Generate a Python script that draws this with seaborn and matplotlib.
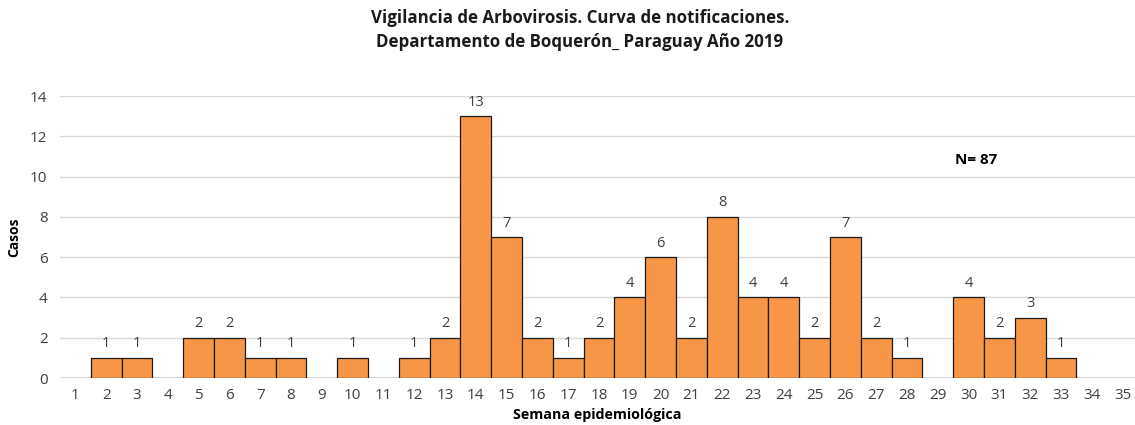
import pandas as pd
import matplotlib.pyplot as plt
import seaborn as sns

# Casos por semana epidemiológica (Boquerón 2019)
semanas = [str(s) for s in range(1, 36)]
casos = [0, 1, 1, 0, 2, 2, 1, 1, 0, 1, 0, 1, 2, 13, 7, 2, 1, 2, 4, 6,
         2, 8, 4, 4, 2, 7, 2, 1, 0, 4, 2, 3, 1, 0, 0]

df = pd.DataFrame({'Semana': semanas, 'Casos': casos})

sns.set_style("white")
plt.rcParams['font.family'] = ['Open Sans', 'DejaVu Sans']

fig = plt.figure(figsize=(11.35, 4.25), dpi=100)
ax = fig.add_axes([60 / 1135, 47 / 425, 1075 / 1135, 282 / 425])

sns.barplot(x='Semana', y='Casos', data=df, order=semanas, color='#F79646',
            width=1.0, edgecolor='#1a1a1a', linewidth=0.9, saturation=1, ax=ax, zorder=3)

ax.set_ylim(0, 14)
ax.set_xlim(-0.5, 34.4)
ax.set_yticks(range(0, 15, 2))
ax.yaxis.grid(True, color='#d9d9d9', linewidth=1, zorder=0)
ax.set_axisbelow(True)
sns.despine(ax=ax, left=True, bottom=True, right=True, top=True)
ax.tick_params(axis='both', length=0, labelsize=11, colors='#404040')
ax.tick_params(axis='y', pad=9)
ax.tick_params(axis='x', pad=7)

# Etiquetas de valor
for i, v in enumerate(casos):
    if v > 0:
        ax.text(i, v + 0.32, str(v), ha='center', va='bottom',
                fontsize=10.5, color='#404040')

ax.set_ylabel('Casos', fontsize=10, fontweight='bold', color='black', labelpad=6)
ax.set_xlabel('Semana epidemiológica', fontsize=10.3, fontweight='bold', color='black', labelpad=4)

ax.text(0.833, 0.773, 'N= 87', transform=ax.transAxes, fontsize=11,
        fontweight='bold', color='black', va='center')

fig.text(580 / 1135, 1 - 30 / 425,
         'Vigilancia de Arbovirosis. Curva de notificaciones.\nDepartamento de Boquerón_ Paraguay Año 2019',
         ha='center', va='center', fontsize=12.2, fontweight='bold', color='#1a1a1a',
         linespacing=1.4)

fig.savefig('out.png', dpi=100)
